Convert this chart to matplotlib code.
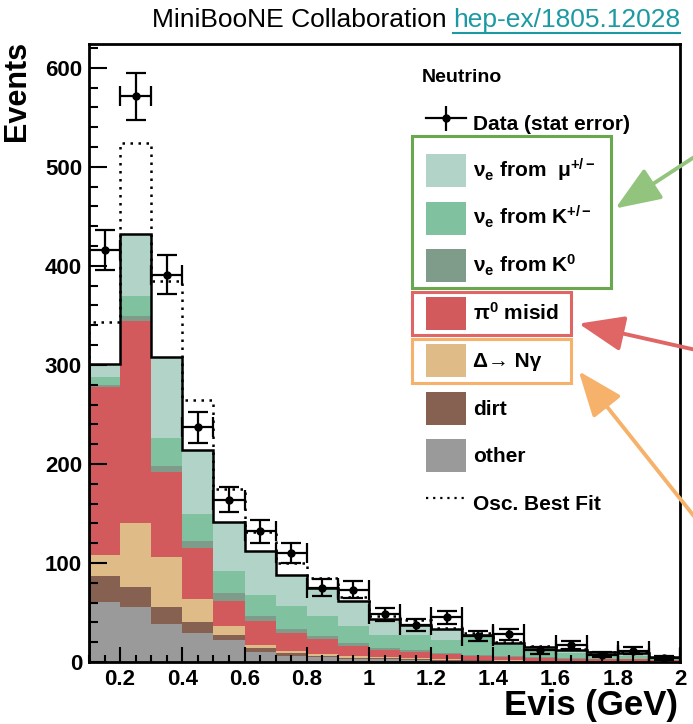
import matplotlib.pyplot as plt
import numpy as np
from matplotlib.lines import Line2D
from matplotlib.patches import Patch, Rectangle, FancyArrowPatch
from matplotlib.ticker import MultipleLocator

plt.rcParams['font.family'] = ['Liberation Sans', 'DejaVu Sans']
plt.rcParams['font.weight'] = 'bold'
plt.rcParams['mathtext.fontset'] = 'custom'
plt.rcParams['mathtext.rm'] = 'Liberation Sans:bold'
plt.rcParams['mathtext.bf'] = 'Liberation Sans:bold'
plt.rcParams['mathtext.it'] = 'Liberation Sans:bold'

W, H = 693, 724

# Evis bins (GeV)
bin_edges = [0.1, 0.2, 0.3, 0.4, 0.5, 0.6, 0.7, 0.8, 0.9, 1.0,
             1.1, 1.2, 1.3, 1.4, 1.5, 1.6, 1.7, 1.8, 1.9, 2.0]

# Untergrund-Komponenten, von unten nach oben gestapelt
other = [61, 56, 38, 29, 22.5, 10.5, 6.5, 5, 3.5, 3, 2, 1.5, 1.2, 1, 0.8, 0.7, 0.5, 0.5, 0.3]
dirt = [26, 20, 18, 11, 5, 3.5, 2.5, 1.5, 1, 0.8, 1, 1, 0.6, 0.5, 0.4, 0.3, 0.3, 0.3, 0.2]
delta_ngamma = [21, 64, 50, 24, 9, 3, 2.5, 1.5, 1.2, 0.9, 1, 0.5, 0.4, 0.3, 0.3, 0.2, 0.2, 0.2, 0.1]
pi0_misid = [170, 204, 86, 51, 25.5, 24, 18, 15, 10, 7.7, 6, 5, 3.8, 3.2, 2.5, 2.3, 2, 2, 1.4]
nue_k0 = [2, 5, 6, 7, 7.5, 5, 4, 3.5, 3.3, 1.6, 2.4, 1, 1.4, 1, 1, 0.5, 0.5, 0.5, 0.5]
nue_kpm = [8, 21, 28, 27, 22, 21.5, 23.5, 20, 17.7, 13.6, 15.2, 13.5, 17.6, 11, 7, 5, 3.5, 3, 1.5]
nue_mu = [13, 62, 82, 65, 50, 44.5, 31, 28.5, 25.3, 15.8, 10.1, 10.8, 2.6, 2.2, 3.1, 3.4, 2.7, 3, 1.0]

# Oszillations-Bestfit (gepunktet) und Daten
osc_best_fit = [343, 524, 385, 265, 175, 131, 100, 85, 66, 46, 42, 34, 29, 20, 16, 13, 10, 10, 5]
data = [416, 571, 391, 237, 164, 132, 110, 75, 73, 48, 37, 45, 26, 28, 12, 17, 7.5, 11.5, 4]
data_err = [20.4, 23.9, 19.8, 15.4, 12.8, 11.5, 10.5, 8.7, 8.5, 6.9, 6.1, 6.7, 5.1, 5.3, 3.5, 4.1, 2.7, 3.4, 2.0]

x_ticks = [0.2, 0.4, 0.6, 0.8, 1.0, 1.2, 1.4, 1.6, 1.8, 2.0]
x_tick_labels = ['0.2', '0.4', '0.6', '0.8', '1', '1.2', '1.4', '1.6', '1.8', '2']

components = [
    (other, '#9a9a9a', 'other'),
    (dirt, '#866050', 'dirt'),
    (delta_ngamma, '#dfbb88', 'Δ→ Nγ'),
    (pi0_misid, '#d35a5c', r'π$^{\mathregular{0}}$ misid'),
    (nue_k0, '#7f9b8a', r'ν$_{\mathregular{e}}$ from K$^{\mathregular{0}}$'),
    (nue_kpm, '#80c1a0', r'ν$_{\mathregular{e}}$ from K$^{\mathregular{+/-}}$'),
    (nue_mu, '#b1d3c8', r'ν$_{\mathregular{e}}$ from  μ$^{\mathregular{+/-}}$'),
]


def px(x, y):
    """Pixel (von oben links) -> Figure-Koordinaten"""
    return x / W, 1 - y / H


fig = plt.figure(figsize=(W / 100, H / 100), dpi=100)
ax = fig.add_axes([89 / W, 1 - 662 / H, (680 - 89) / W, (662 - 44) / H])

edges = np.array(bin_edges)
centers = (edges[:-1] + edges[1:]) / 2
half_width = (edges[1:] - edges[:-1]) / 2

# gestapelte Histogramme
bottom = np.zeros(len(data))
for values, color, label in components:
    top = bottom + np.array(values)
    ax.stairs(top, edges, baseline=bottom, fill=True, color=color, lw=0)
    bottom = top

ax.stairs(bottom, edges, color='k', lw=1.8)
ax.stairs(osc_best_fit, edges, color='k', lw=1.8, linestyle=(0, (1, 2.2)))

ax.errorbar(centers, data, xerr=half_width, yerr=data_err, fmt='o',
            color='k', ms=5, elinewidth=1.6, capsize=7, capthick=1.6)

ax.set_xlim(0.1, 2.0)
ax.set_ylim(0, 624)
ax.set_xticks(x_ticks)
ax.set_xticklabels(x_tick_labels)
ax.xaxis.set_minor_locator(MultipleLocator(0.05))
ax.yaxis.set_major_locator(MultipleLocator(100))
ax.yaxis.set_minor_locator(MultipleLocator(20))
ax.tick_params(which='both', direction='in', width=1.5, labelsize=16, top=False, right=False)
ax.tick_params(axis='x', which='major', length=11, pad=5)
ax.tick_params(axis='x', which='minor', length=5)
ax.tick_params(axis='y', which='major', length=13, pad=5)
ax.tick_params(axis='y', which='minor', length=6.5)
for spine in ax.spines.values():
    spine.set_linewidth(2)

ax.set_xlabel('Evis (GeV)', fontsize=25, fontweight='bold')
ax.xaxis.set_label_coords(0.997, -0.0975)
ax.xaxis.label.set_ha('right')
ax.xaxis.label.set_va('bottom')
ax.set_ylabel('Events', fontsize=22, fontweight='bold')
ax.yaxis.set_label_coords(-0.122, 1.005)
ax.yaxis.label.set_ha('right')
ax.yaxis.label.set_va('center')

# Legende
data_handle = (Line2D([], [], color='k', lw=1.6, marker='o', ms=5),
               Line2D([], [], color='k', lw=0, marker='|', ms=18, mew=1.6))
handles = [data_handle]
labels = ['Data (stat error)']
for values, color, label in reversed(components):
    handles.append(Patch(facecolor=color, edgecolor='none'))
    labels.append(label)
handles.append(Line2D([], [], color='k', lw=1.6, linestyle=(0, (1, 2.2))))
labels.append('Osc. Best Fit')

fig.text(*px(422, 78), 'Neutrino', ha='left', va='center', fontsize=14)
ax.legend(handles, labels, loc='upper left', bbox_to_anchor=(0.5702, 0.8989),
          frameon=False, fontsize=15, borderpad=0, borderaxespad=0,
          handlelength=1.92, handleheight=2.07, handletextpad=0.35, labelspacing=0.69)

# farbige Markierungen und Pfeile
boxes = [
    ((412, 136), (611, 288), '#6aa84f'),
    ((412, 292), (571, 335), '#e06666'),
    ((412, 339), (571, 383), '#f6b26b'),
]
for (x0, y0), (x1, y1), c in boxes:
    fig.add_artist(Rectangle(px(x0, y1), (x1 - x0) / W, (y1 - y0) / H, fill=False,
                             edgecolor=c, lw=2.2, transform=fig.transFigure))

arrows = [
    ((705, 150), (613, 210), '#93c47d'),
    ((705, 352), (576, 323), '#e06666'),
    ((705, 530), (577, 369), '#f6b26b'),
]
for start, tip, c in arrows:
    fig.add_artist(FancyArrowPatch(px(*start), px(*tip), transform=fig.transFigure,
                                   arrowstyle='-|>,head_length=1.4,head_width=0.55',
                                   mutation_scale=20, lw=2.8, color=c))

# Quelle oben rechts
link_color = '#1b9aa3'
link = fig.text(*px(680, 20), 'hep-ex/1805.12028', ha='right', va='center',
                fontsize=19, fontweight='normal', color=link_color)
fig.canvas.draw()
bb = link.get_window_extent()
fig.text((bb.x0 - 6) / W, 1 - 20 / H, 'MiniBooNE Collaboration', ha='right', va='center',
         fontsize=19, fontweight='normal', color='k')
fig.add_artist(Line2D([bb.x0 / W, bb.x1 / W], [1 - 33 / H, 1 - 33 / H],
                      color=link_color, lw=1.5, transform=fig.transFigure))

fig.savefig('out.png', dpi=100)
plt.close()
